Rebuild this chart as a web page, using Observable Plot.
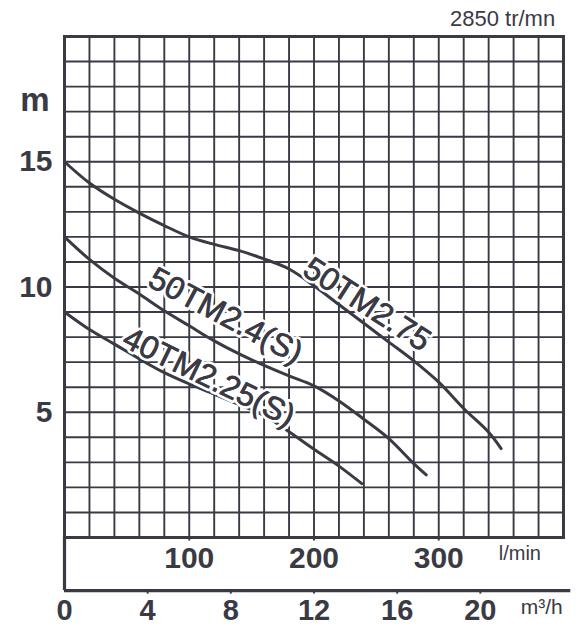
<!DOCTYPE html>
<html><head><meta charset="utf-8">
<script src="https://cdn.jsdelivr.net/npm/d3@7"></script>
<script src="https://cdn.jsdelivr.net/npm/@observablehq/plot@0.6"></script>
<style>
body{margin:0;background:#fff;}
#chart{position:absolute;left:0;top:0;}
</style>
</head><body><div id="chart"></div>
<script>
// ---- data ----
const speedLabel = "2850 tr/mn";
const seriesNames = ["50TM2.75", "50TM2.4(S)", "40TM2.25(S)"];
// flow in m³/h, head in m
const flow_50TM275 = [0, 1.2, 2.4, 3.6, 4.8, 6.0, 7.2, 8.4, 9.6, 10.8, 12.0, 13.2, 14.4, 15.6, 16.8, 18.0, 19.2, 20.4, 21.0];
const head_50TM275 = [15.0, 14.15, 13.5, 12.95, 12.45, 12.0, 11.7, 11.45, 11.12, 10.72, 10.05, 9.3, 8.55, 7.8, 7.05, 6.2, 5.15, 4.2, 3.55];
const flow_50TM24 = [0, 1.2, 2.4, 3.6, 4.8, 6.0, 7.2, 8.4, 9.6, 10.8, 12.0, 13.2, 14.4, 15.6, 16.8, 17.4];
const head_50TM24 = [12.0, 11.1, 10.35, 9.72, 9.05, 8.45, 7.85, 7.33, 6.87, 6.45, 6.05, 5.45, 4.72, 3.95, 2.95, 2.5];
const flow_40TM225 = [0, 1.2, 2.4, 3.6, 4.8, 6.0, 7.2, 8.4, 9.6, 10.8, 12.0, 13.2, 14.3];
const head_40TM225 = [9.0, 8.3, 7.72, 7.13, 6.58, 6.13, 5.72, 5.3, 4.87, 4.22, 3.52, 2.85, 2.15];

const headTicks = [5, 10, 15];
const lpmTicks = [100, 200, 300];
const m3hTicks = [0, 4, 8, 12, 16, 20];
const headUnit = "m";
const lpmUnit = "l/min";
const m3hUnit = "m³/h";

// ---- build ----
const LPM_TO_M3H = 0.06;
const curves = [
  {name: seriesNames[0], flow: flow_50TM275, head: head_50TM275},
  {name: seriesNames[1], flow: flow_50TM24, head: head_50TM24},
  {name: seriesNames[2], flow: flow_40TM225, head: head_40TM225}
];
const points = curves.flatMap(c => c.flow.map((f, i) => ({name: c.name, flow: f, head: c.head[i]})));
// label placement (annotation layout, in scale units)
const labelPlace = [
  {name: seriesNames[0], x: 14.55, y: 9.3, angle: 33},
  {name: seriesNames[1], x: 7.75, y: 8.85, angle: 28},
  {name: seriesNames[2], x: 6.95, y: 6.4, angle: 26}
];

const ink = "#3a3a45";
const font = "'Liberation Sans', Arial, Helvetica, sans-serif";
const xMax = 24, yMax = 20, bandBottom = -2.12;
const vGrid = d3.range(0, 401, 20).map(v => v * LPM_TO_M3H);
const hGrid = d3.range(0, yMax + 1, 1);
const labelOpts = {x: "x", y: "y", text: "name", rotate: d => d.angle, fontSize: 32,
  textAnchor: "middle", lineAnchor: "middle"};

const chart = Plot.plot({
  width: 578, height: 628,
  marginLeft: 64, marginRight: 15, marginTop: 36, marginBottom: 91,
  x: {domain: [0, xMax], axis: null},
  y: {domain: [0, yMax], axis: null},
  style: {fontFamily: font, background: "#fff", color: ink},
  marks: [
    Plot.ruleX(vGrid, {y1: 0, y2: yMax, stroke: ink, strokeWidth: 1.9, strokeOpacity: 1}),
    Plot.ruleY(hGrid, {x1: 0, x2: xMax, stroke: ink, strokeWidth: 1.9, strokeOpacity: 1}),
    Plot.frame({stroke: ink, strokeWidth: 3}),
    Plot.ruleX([0], {y1: 0, y2: bandBottom, stroke: ink, strokeWidth: 3.2}),
    Plot.ruleY([bandBottom], {x1: 0, x2: 24.35, stroke: ink, strokeWidth: 3.2}),
    Plot.ruleX(lpmTicks, {x: d => d * LPM_TO_M3H, y1: 0, y2: -0.14, stroke: ink, strokeWidth: 2}),
    Plot.ruleX(m3hTicks.slice(1), {x: d => d, y1: bandBottom, y2: bandBottom - 0.14, stroke: ink, strokeWidth: 2}),
    Plot.line(points, {x: "flow", y: "head", z: "name", curve: "catmull-rom", stroke: ink, strokeWidth: 3}),
    Plot.text(labelPlace, {...labelOpts, fill: ink, stroke: "white", strokeWidth: 6}),
    Plot.text(labelPlace, {...labelOpts, fill: ink, stroke: ink, strokeWidth: 0.6}),
    // y labels
    Plot.text(headTicks, {x: 0, y: d => d, text: d => String(d), dx: -12, textAnchor: "end", lineAnchor: "middle",
      fontSize: 30, fontWeight: "bold", fill: ink}),
    Plot.text([headUnit], {x: 0, y: 17.45, text: d => d, dx: -15, textAnchor: "end", lineAnchor: "middle",
      fontSize: 33, fontWeight: "bold", fill: ink}),
    // l/min labels
    Plot.text(lpmTicks, {x: d => d * LPM_TO_M3H, y: 0, text: d => String(d), dy: 21, lineAnchor: "middle",
      fontSize: 30, fontWeight: "bold", fill: ink}),
    Plot.text([lpmUnit], {x: 21.9, y: 0, text: d => d, dy: 16, lineAnchor: "middle", fontSize: 20, fill: ink}),
    // m3/h labels
    Plot.text(m3hTicks, {x: d => d, y: bandBottom, text: d => String(d), dy: 20, lineAnchor: "middle",
      fontSize: 29, fontWeight: "bold", fill: ink}),
    Plot.text([m3hUnit], {x: 22.95, y: bandBottom, text: d => d, dy: 17, lineAnchor: "middle", fontSize: 21, fill: ink}),
    // speed
    Plot.text([speedLabel], {x: 23.6, y: yMax, text: d => d, dy: -18, textAnchor: "end", lineAnchor: "middle",
      fontSize: 22, fill: ink})
  ]
});
document.getElementById("chart").appendChild(chart);
</script>
</body></html>
